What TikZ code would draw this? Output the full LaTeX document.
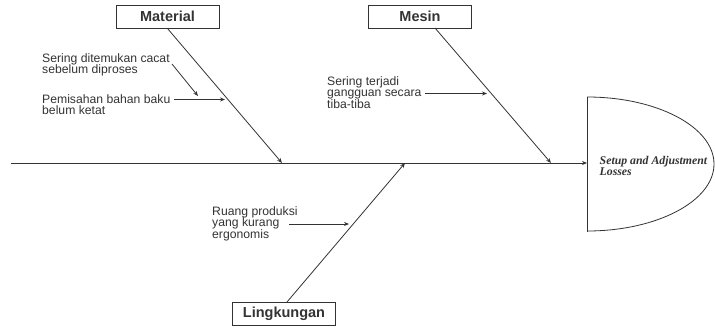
\documentclass[tikz,border=0pt]{standalone}
\usepackage{fontspec}
\setmainfont{Liberation Sans}
\newfontfamily\headfont{Liberation Serif}
\usetikzlibrary{arrows.meta}
\definecolor{ink}{HTML}{333333}
\begin{document}
\begin{tikzpicture}[x=1pt,y=-1pt,
  line/.style={draw=ink,line width=0.8pt},
  arr/.style={line,-{Stealth[length=5pt,width=4pt]}},
  catbox/.style={draw=ink,line width=1pt,minimum width=103pt,minimum height=23pt,inner sep=0pt,
     font=\fontsize{14.5}{14}\selectfont\bfseries,text=ink},
  cause/.style={anchor=north west,inner sep=0pt,align=left,text=ink,
     font=\fontsize{12.2}{11.5}\selectfont}]
\useasboundingbox (0,0) rectangle (715,327);
% category boxes
\node[catbox] (mat) at (167.5,16.5) {Material};
\node[catbox] (mes) at (420,16.5) {Mesin};
\node[catbox] (lin) at (284,313.5) {Lingkungan};
% spine
\coordinate (sp0) at (11,163);
\coordinate (headL) at (587,163);
\coordinate (smat) at (282,163);
\coordinate (smes) at (551,163);
\coordinate (slin) at (405,163);
\coordinate (mesTop) at (435,28);
\coordinate (linTop) at (287,302);
\draw[arr] (sp0) -- (headL);
\draw[arr] (mat.south) -- (smat);
\draw[arr] (mesTop) -- (smes);
\draw[arr] (linTop) -- (slin);
% head
\draw[line] (587,97) -- (587,232);
\draw[line] (587,97) arc[start angle=-90,end angle=90,x radius=127,y radius=67];
\node[anchor=north west,inner sep=0pt,align=left,text=ink,
  font=\headfont\fontsize{11.8}{10.5}\selectfont\bfseries\itshape] (head) at (599.5,156.5)
  {Setup and Adjustment\\Losses};
% causes
\node[cause] (t1) at (42,53) {Sering ditemukan cacat\\sebelum diproses};
\node[cause] (t2) at (42,94) {Pemisahan bahan baku\\belum ketat};
\node[cause] (t3) at (327,76) {Sering terjadi\\gangguan secara\\tiba-tiba};
\node[cause] (t4) at (212,206) {Ruang produksi\\yang kurang\\ergonomis};
\coordinate (a1s) at (172,64);
\coordinate (a1e) at (198,96);
\coordinate (a2s) at (174,99.5);
\coordinate (a2e) at (225,99.5);
\coordinate (a3s) at (425,93.5);
\coordinate (a3e) at (487,93.5);
\coordinate (a4s) at (289,224);
\coordinate (a4e) at (349,224);
\draw[arr] (a1s) -- (a1e);
\draw[arr] (a2s) -- (a2e);
\draw[arr] (a3s) -- (a3e);
\draw[arr] (a4s) -- (a4e);
\end{tikzpicture}
\end{document}
